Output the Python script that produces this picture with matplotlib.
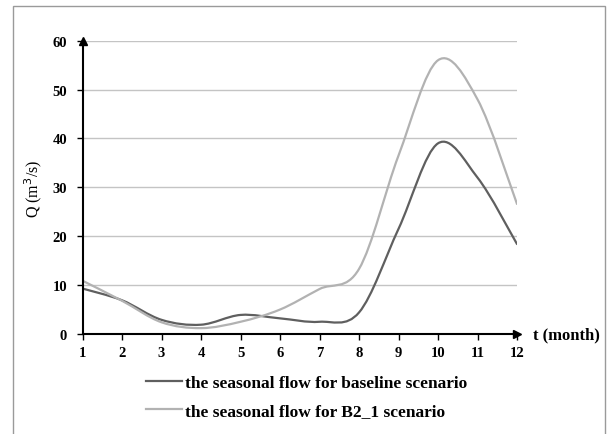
import numpy as np
import matplotlib
matplotlib.use("Agg")
import matplotlib.pyplot as plt
from matplotlib.path import Path
from matplotlib.patches import PathPatch, Rectangle
from matplotlib.lines import Line2D

months = [1, 2, 3, 4, 5, 6, 7, 8, 9, 10, 11, 12]
baseline = [9.3, 6.9, 2.9, 1.9, 3.9, 3.2, 2.5, 4.4, 21.5, 39.0, 32.0, 18.4]
b2_1 = [10.9, 6.8, 2.4, 1.2, 2.5, 5.0, 9.2, 13.3, 36.5, 56.0, 48.0, 26.6]
labels = ["the seasonal flow for baseline scenario",
          "the seasonal flow for B2_1 scenario"]
colors = ["#5f5f5f", "#b2b2b2"]

plt.rcParams['font.family'] = ['Liberation Serif', 'DejaVu Serif']


def smooth_path(x, y):
    # excel-like smoothed line: catmull-rom turned into cubic bezier segments
    x = np.asarray(x, float)
    y = np.asarray(y, float)
    p = np.column_stack([x, y])
    n = len(p)
    verts = [p[0]]
    codes = [Path.MOVETO]
    for i in range(n - 1):
        p0 = p[i - 1] if i > 0 else p[i]
        p3 = p[i + 2] if i + 2 < n else p[i + 1]
        c1 = p[i] + (p[i + 1] - p0) / 6.0
        c2 = p[i + 1] - (p3 - p[i]) / 6.0
        verts += [c1, c2, p[i + 1]]
        codes += [Path.CURVE4] * 3
    return Path(verts, codes)


fig = plt.figure(figsize=(6.08, 4.35), dpi=100)
fig.patches.append(Rectangle((13 / 608, -0.05), 592 / 608, 1.05 - 7 / 435,
                             transform=fig.transFigure, fill=False,
                             edgecolor="#9a9a9a", lw=1.0))

ax = fig.add_axes([82.5 / 608, 100 / 435, 434.5 / 608, 293.3 / 435])

for series, col in zip([baseline, b2_1], colors):
    ax.add_patch(PathPatch(smooth_path(months, series), fill=False,
                           edgecolor=col, lw=1.6, capstyle='round', zorder=3))

ax.set_xlim(1, 12)
ax.set_ylim(0, 60)
ax.set_xticks(months)
ax.set_yticks(range(0, 61, 10))
ax.yaxis.grid(True, color="#c4c4c4", lw=1.0)
ax.set_axisbelow(True)

for s in ["top", "right"]:
    ax.spines[s].set_visible(False)
for s in ["left", "bottom"]:
    ax.spines[s].set_color("black")
    ax.spines[s].set_linewidth(1.5)
    ax.spines[s].set_zorder(4)

ax.plot(1, 0, ">", color="black", ms=6, transform=ax.transAxes, clip_on=False, zorder=5)
ax.plot(0, 1, "^", color="black", ms=6, transform=ax.transAxes, clip_on=False, zorder=5)

ax.tick_params(axis='both', direction='out', length=4, width=1.0, colors='black',
               labelsize=10.5)
ax.tick_params(axis='x', pad=5)
ax.tick_params(axis='y', pad=7)
for t in ax.get_xticklabels() + ax.get_yticklabels():
    t.set_fontweight('bold')

ax.set_ylabel("Q (m$^3$/s)", fontsize=11.5, labelpad=6)
ax.text(1.037, 0, "t (month)", transform=ax.transAxes, fontsize=12,
        fontweight='bold', ha='left', va='center')

handles = [Line2D([], [], color=c, lw=1.6) for c in colors]
fig.legend(handles, labels, loc='upper left', bbox_to_anchor=(146 / 608, 1 - 376 / 435),
           frameon=False, handlelength=2.1, handletextpad=0.15, labelspacing=0.7,
           borderpad=0, borderaxespad=0,
           prop={'weight': 'bold', 'size': 12.5})

fig.savefig("out.png", dpi=100)
